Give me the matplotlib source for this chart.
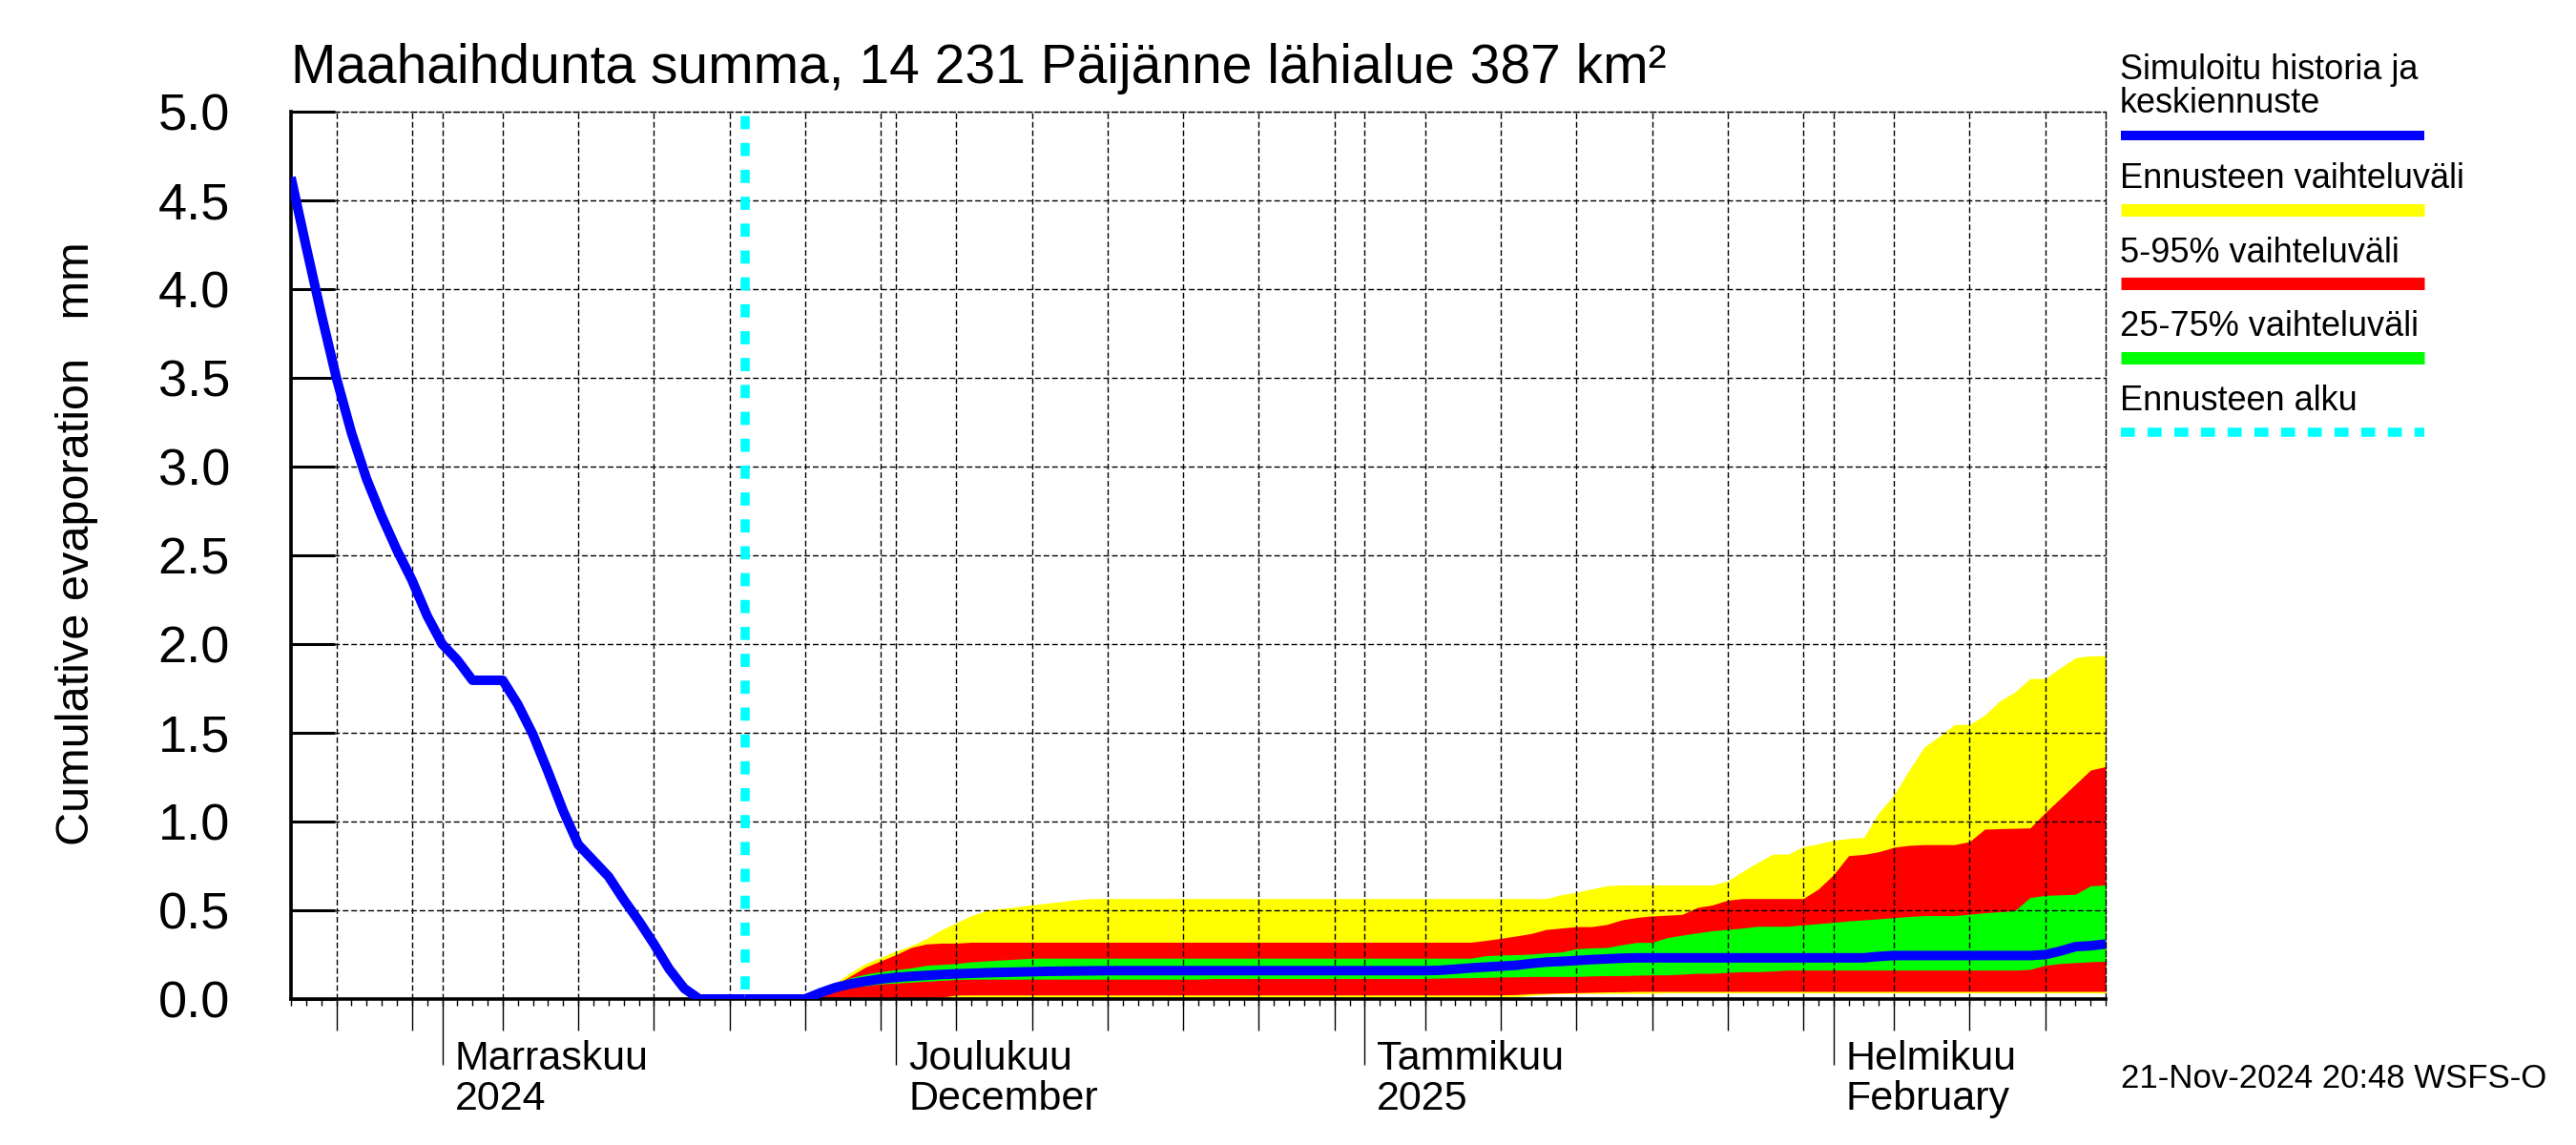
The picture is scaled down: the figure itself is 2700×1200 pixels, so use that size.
import datetime as dt
import numpy as np
import matplotlib
matplotlib.use("Agg")
import matplotlib.pyplot as plt
import matplotlib.transforms as mtransforms
from matplotlib.lines import Line2D

plt.rcParams['font.family'] = ['Liberation Sans', 'DejaVu Sans']

# ---------------- data ----------------
title = "Maahaihdunta summa, 14 231 Päijänne lähialue 387 km²"
ylabel = "Cumulative evaporation   mm"
timestamp = "21-Nov-2024 20:48 WSFS-O"

x_start = dt.datetime(2024, 10, 22)
x_end = dt.datetime(2025, 2, 19)
forecast_start = dt.datetime(2024, 11, 21)

# simulated history, daily from 2024-10-22 to 2024-11-21
hist_values = [4.63, 4.24, 3.86, 3.50, 3.19, 2.93, 2.72, 2.53, 2.36, 2.16,
               2.00, 1.91, 1.796, 1.796, 1.796, 1.66, 1.49, 1.28, 1.06, 0.87,
               0.78, 0.69, 0.56, 0.44, 0.31, 0.17, 0.06, 0.0, 0.0, 0.0, 0.0]

# forecast statistics, daily from 2024-11-21 to 2025-02-19
fc_max = ([0, 0, 0, 0, 0] + [0.03, 0.09, 0.15, 0.20, 0.235] +
          [0.27, 0.30, 0.34, 0.39, 0.43] + [0.47, 0.50, 0.51, 0.52, 0.53] +
          [0.54, 0.55, 0.56, 0.566, 0.566] + [0.566] * 29 +
          [0.588, 0.602, 0.62, 0.638] + [0.643] * 7 +
          [0.665, 0.72, 0.77, 0.817, 0.817] + [0.858, 0.875, 0.894, 0.905, 0.91] +
          [1.05, 1.15, 1.29, 1.42, 1.48] + [1.547, 1.547, 1.60, 1.68, 1.73] +
          [1.806, 1.806, 1.866, 1.923, 1.934, 1.934])
fc_p95 = ([0, 0, 0, 0, 0] + [0.03, 0.08, 0.13, 0.18, 0.215] +
          [0.25, 0.29, 0.31, 0.315, 0.315] + [0.32] * 34 +
          [0.33, 0.342, 0.355, 0.369, 0.392] + [0.40, 0.408, 0.408, 0.42, 0.446] +
          [0.46, 0.468, 0.472, 0.477, 0.516] + [0.53, 0.557, 0.566, 0.566, 0.566, 0.566] +
          [0.566, 0.62, 0.70, 0.808, 0.815] + [0.83, 0.855, 0.866, 0.87, 0.87, 0.87] +
          [0.887, 0.957, 0.96, 0.962, 0.964] + [1.05, 1.13, 1.21, 1.29, 1.31])
fc_p75 = ([0, 0, 0, 0, 0] + [0.03, 0.08, 0.12, 0.14, 0.155] +
          [0.165, 0.175, 0.19, 0.195, 0.20] + [0.21, 0.215, 0.22, 0.225] +
          [0.23] * 30 + [0.244, 0.248, 0.25, 0.253, 0.26] +
          [0.265, 0.283, 0.288, 0.29, 0.306] + [0.319, 0.319, 0.346, 0.36, 0.373] +
          [0.385, 0.392, 0.40, 0.41, 0.41] + [0.41, 0.418, 0.425, 0.432, 0.44] +
          [0.446, 0.452, 0.459, 0.465, 0.47] + [0.47, 0.47, 0.478, 0.486, 0.492, 0.498] +
          [0.572, 0.584, 0.587, 0.59, 0.638, 0.643])
fc_median = ([0, 0, 0, 0, 0] + [0.035, 0.065, 0.085, 0.10, 0.113] +
             [0.122, 0.128, 0.133, 0.138, 0.142] + [0.145, 0.148, 0.150, 0.152, 0.154] +
             [0.156, 0.157, 0.158, 0.159, 0.16] + [0.16] * 21 +
             [0.162, 0.168, 0.175, 0.18, 0.185] + [0.19, 0.20, 0.208, 0.212, 0.217] +
             [0.222, 0.226, 0.23] + [0.232] * 16 + [0.24] + [0.245] * 10 +
             [0.25, 0.27, 0.295, 0.30, 0.31])
fc_p25 = ([0, 0, 0, 0, 0] + [0.02, 0.045, 0.065, 0.075, 0.085] +
          [0.09, 0.095, 0.10, 0.105, 0.11] + [0.112] * 16 + [0.116] * 15 +
          [0.118, 0.12, 0.12, 0.122, 0.124] + [0.125, 0.127, 0.127, 0.127, 0.127, 0.13] +
          [0.132, 0.132, 0.134, 0.136, 0.136] + [0.14, 0.145, 0.145, 0.15, 0.154, 0.154, 0.158] +
          [0.163] * 16 + [0.167, 0.19, 0.20, 0.205, 0.21, 0.213])
fc_p05 = ([0, 0, 0, 0, 0] + [0.003, 0.005, 0.006, 0.007, 0.007, 0.007, 0.007, 0.008, 0.01] +
          [0.022] + [0.023] * 36 + [0.025, 0.03, 0.032, 0.034] +
          [0.036, 0.038, 0.04, 0.041] + [0.043] * 32)
fc_min = ([0] * 14 + [0.008] * 37 + [0.012, 0.02, 0.027, 0.03] + [0.031] * 6 + [0.034] * 30)

month_labels = [("Marraskuu", "2024"), ("Joulukuu", "December"),
                ("Tammikuu", "2025"), ("Helmikuu", "February")]
month_starts = [dt.datetime(2024, 11, 1), dt.datetime(2024, 12, 1),
                dt.datetime(2025, 1, 1), dt.datetime(2025, 2, 1)]
grid_days = [5, 10, 15, 20, 25, 30]

legend_texts = ["Ennusteen vaihteluväli", "5-95% vaihteluväli",
                "25-75% vaihteluväli", "Ennusteen alku"]

BLUE, YELLOW, RED, GREEN, CYAN = "#0000FF", "#FFFF00", "#FF0000", "#00FF00", "#00FFFF"

# ---------------- derived dates ----------------
hist_dates = [x_start + dt.timedelta(days=i) for i in range(len(hist_values))]
fc_dates = [forecast_start + dt.timedelta(days=i) for i in range(len(fc_max))]
n_days = (x_end - x_start).days
daily_ticks = [x_start + dt.timedelta(days=i) for i in range(n_days + 1)]
five_day_ticks = [d for d in daily_ticks if d.day in grid_days]

# ---------------- figure ----------------
W, H = 2700, 1200
fig = plt.figure(figsize=(W / 100, H / 100), dpi=100)
ax = fig.add_axes([305 / W, 153 / H, (2207 - 305) / W, (1047 - 117) / H])

ax.fill_between(fc_dates, fc_min, fc_max, color=YELLOW, lw=0, zorder=1)
ax.fill_between(fc_dates, fc_p05, fc_p95, color=RED, lw=0, zorder=1.1)
ax.fill_between(fc_dates, fc_p25, fc_p75, color=GREEN, lw=0, zorder=1.2)

ax.plot([forecast_start, forecast_start], [0, 5], color=CYAN, lw=6.9,
        linestyle=(1.9, (1.44, 1.5)), zorder=2.8)
ax.plot(hist_dates, hist_values, color=BLUE, lw=7.2, zorder=3,
        solid_joinstyle='round', solid_capstyle='butt')
ax.plot(fc_dates, fc_median, color=BLUE, lw=7.2, zorder=3,
        solid_joinstyle='round', solid_capstyle='butt')

ax.set_xlim(x_start, x_end)
ax.set_ylim(0, 5)
ax.set_axisbelow(False)

dash = (0, (4.3, 2.15))
ax.set_yticks(np.arange(0, 5.01, 0.5))
ax.yaxis.set_major_formatter(matplotlib.ticker.FuncFormatter(lambda v, p: f"{v:.1f}"))
ax.tick_params(axis='y', direction='in', length=33, width=2.2, pad=46,
               labelsize=39, colors='black')
ax.grid(axis='y', which='major', color='black', lw=1.0, linestyle=dash)

ax.set_xticks(month_starts)
ax.set_xticks(five_day_ticks, minor=True)
ax.tick_params(axis='x', which='major', direction='out', length=50, width=1.0,
               labelbottom=False)
ax.tick_params(axis='x', which='minor', direction='out', length=24, width=1.0,
               labelbottom=False)
ax.grid(axis='x', which='both', color='black', lw=1.0, linestyle=dash)

sec = ax.secondary_xaxis('bottom')
sec.set_xticks(daily_ticks)
sec.tick_params(axis='x', direction='out', length=5, width=1.0, labelbottom=False)
sec.spines['bottom'].set_visible(False)

for s in ['left', 'bottom']:
    ax.spines[s].set_linewidth(2.6)
    ax.spines[s].set_zorder(2.6)
for s in ['top', 'right']:
    ax.spines[s].set_linewidth(1.0)
    ax.spines[s].set_linestyle(dash)

# month labels
trans = mtransforms.blended_transform_factory(ax.transData, fig.transFigure) + \
    mtransforms.ScaledTranslation(13 / 100, 0, fig.dpi_scale_trans)
for d, (l1, l2) in zip(month_starts, month_labels):
    ax.text(d, 1 - 1121 / H, l1, transform=trans, ha='left', va='baseline', fontsize=31)
    ax.text(d, 1 - 1163 / H, l2, transform=trans, ha='left', va='baseline', fontsize=31)

# title, y label, timestamp
fig.text(305 / W, 1 - 87 / H, title, ha='left', va='baseline', fontsize=41)
fig.text(81 / W, 1 - 570 / H, ylabel, ha='center', va='center', rotation=90, fontsize=35)
fig.text(2223 / W, 1 - 1140 / H, timestamp, ha='left', va='baseline', fontsize=25)

# legend
lx0, lx1 = 2223 / W, 2541 / W
fig.text(2222 / W, 1 - 83 / H, "Simuloitu historia ja", ha='left', va='baseline', fontsize=26)
fig.text(2222 / W, 1 - 118 / H, "keskiennuste", ha='left', va='baseline', fontsize=26)
fig.add_artist(Line2D([lx0, lx1], [1 - 142 / H] * 2, color=BLUE, lw=7.2,
                      solid_capstyle='butt', transform=fig.transFigure))
leg_base = [197, 275, 352, 430]
leg_line = [220, 297, 375, 453]
leg_cols = [YELLOW, RED, GREEN, CYAN]
for txt, yb, yl, c in zip(legend_texts, leg_base, leg_line, leg_cols):
    fig.text(2222 / W, 1 - yb / H, txt, ha='left', va='baseline', fontsize=26)
    if c == CYAN:
        fig.add_artist(Line2D([lx0, lx1], [1 - yl / H] * 2, color=c, lw=6.9,
                              linestyle=(0, (1.53, 1.39)), dash_capstyle='butt',
                              transform=fig.transFigure))
    else:
        fig.add_artist(Line2D([lx0, lx1], [1 - yl / H] * 2, color=c, lw=9.4,
                              solid_capstyle='butt', transform=fig.transFigure))

fig.savefig("out.png", dpi=100)
